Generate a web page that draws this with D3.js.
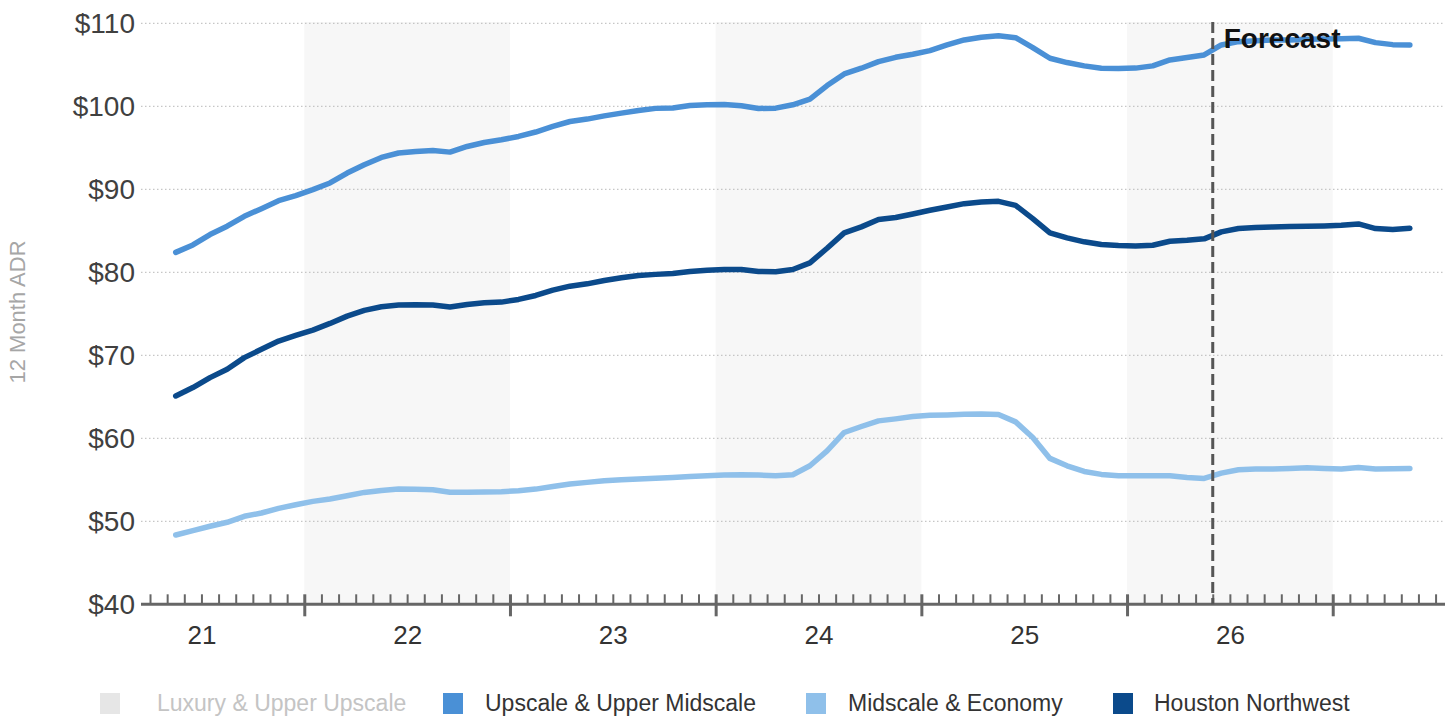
<!DOCTYPE html>
<html>
<head>
<meta charset="utf-8">
<script src="https://cdn.jsdelivr.net/npm/d3@7"></script>
<style>
  html, body { margin: 0; padding: 0; background: #fff; }
  svg { display: block; font-family: "Liberation Sans", Arial, sans-serif; }
</style>
</head>
<body>
<svg id="chart" width="1455" height="717"></svg>
<script>
// ---------------- DATA ----------------
const startMonth = "2021-05";          // first monthly point (May 2021)
const forecastStart = "2026-06";       // forecast begins June 2026
const yearLabels = ["21", "22", "23", "24", "25", "26"];
const yTicks = [40, 50, 60, 70, 80, 90, 100, 110];

const seriesNames = ["Luxury & Upper Upscale", "Upscale & Upper Midscale", "Midscale & Economy", "Houston Northwest"];

const upscale = [
  82.4, 83.3, 84.55, 85.55, 86.75, 87.67, 88.63, 89.24, 89.96, 90.76, 91.96, 92.96,
  93.84, 94.37, 94.56, 94.68, 94.48, 95.16, 95.64, 95.97, 96.37, 96.9, 97.57, 98.17,
  98.46, 98.85, 99.18, 99.5, 99.75, 99.8, 100.1, 100.18, 100.22, 100.06, 99.74, 99.78,
  100.18, 100.86, 102.5, 103.9, 104.59, 105.38, 105.9, 106.27, 106.71, 107.39, 107.99, 108.32,
  108.51, 108.27, 107.07, 105.79, 105.27, 104.87, 104.59, 104.55, 104.6, 104.87, 105.59, 105.87,
  106.19, 107.39, 107.79, 107.91, 107.99, 107.99, 108.07, 108.11, 108.15, 108.2, 107.67, 107.43,
  107.39
];

const midscale = [
  48.35, 48.88, 49.4, 49.88, 50.6, 51.0, 51.56, 52.0, 52.4, 52.68, 53.08, 53.48,
  53.72, 53.88, 53.85, 53.8, 53.49, 53.49, 53.53, 53.57, 53.68, 53.88, 54.2, 54.49,
  54.69, 54.88, 55.01, 55.09, 55.19, 55.29, 55.41, 55.49, 55.57, 55.61, 55.57, 55.49,
  55.61, 56.69, 58.49, 60.7, 61.42, 62.1, 62.34, 62.62, 62.78, 62.82, 62.9, 62.94,
  62.86, 61.98, 60.1, 57.58, 56.69, 56.01, 55.65, 55.49, 55.49, 55.49, 55.49, 55.29,
  55.17, 55.81, 56.21, 56.29, 56.29, 56.37, 56.45, 56.37, 56.29, 56.49, 56.29, 56.33,
  56.37
];

const houston = [
  65.1, 66.11, 67.31, 68.31, 69.72, 70.72, 71.72, 72.4, 73.04, 73.84, 74.72, 75.41,
  75.85, 76.05, 76.08, 76.05, 75.81, 76.13, 76.33, 76.41, 76.73, 77.21, 77.85, 78.33,
  78.61, 79.02, 79.34, 79.61, 79.75, 79.86, 80.1, 80.26, 80.34, 80.34, 80.1, 80.06,
  80.34, 81.14, 82.9, 84.75, 85.47, 86.35, 86.6, 87.03, 87.47, 87.87, 88.27, 88.47,
  88.55, 88.07, 86.47, 84.75, 84.15, 83.67, 83.34, 83.22, 83.16, 83.26, 83.74, 83.86,
  84.03, 84.87, 85.27, 85.39, 85.47, 85.51, 85.55, 85.59, 85.67, 85.83, 85.27, 85.15,
  85.31
];

// ---------------- STYLE / LAYOUT ----------------
const colors = {
  lux: "#e6e6e6",
  upscale: "#4a90d6",
  midscale: "#8fc0ea",
  houston: "#0b4a8b"
};

const svg = d3.select("#chart");
const axisY = 604.3;
const plotTop = 22;
const plotLeft = 141, plotRight = 1445;

// month index: months since Jan 2021
const parseM = d3.timeParse("%Y-%m");
const mIndex = d => (d.getFullYear() - 2021) * 12 + d.getMonth();
const start = parseM(startMonth);
const months = d3.timeMonth.range(start, d3.timeMonth.offset(start, upscale.length));
const monthPos = months.map(d => mIndex(d) + 0.5);

const x = d3.scaleLinear().domain([2.474, 78.55]).range([plotLeft, plotRight]);
const y = d3.scaleLinear().domain([40, 110]).range([axisY, 23.3]);

// shaded year bands (alternate years)
const bandYears = yearLabels.map((d, i) => i).filter(i => i % 2 === 1);
svg.append("g").selectAll("rect").data(bandYears).join("rect")
  .attr("x", i => x(i * 12))
  .attr("width", i => x(i * 12 + 12) - x(i * 12))
  .attr("y", plotTop)
  .attr("height", axisY - plotTop)
  .attr("fill", "#f7f7f7");

// gridlines
svg.append("g").selectAll("line").data(yTicks.filter(v => v > 40)).join("line")
  .attr("x1", plotLeft).attr("x2", plotRight)
  .attr("y1", d => y(d)).attr("y2", d => y(d))
  .attr("stroke", "#b8b8b8").attr("stroke-width", 1)
  .attr("stroke-dasharray", "1.5,2.5");

// y axis labels
const yAxis = svg.append("g").attr("transform", `translate(${plotLeft},0)`)
  .call(d3.axisLeft(y).tickValues(yTicks).tickFormat(d => "$" + d).tickSize(0).tickPadding(6));
yAxis.select(".domain").remove();
yAxis.selectAll("text").attr("font-size", 28).attr("fill", "#404040")
  .attr("font-family", "Liberation Sans, Arial, sans-serif");

// y title
svg.append("text")
  .attr("transform", "translate(25,312) rotate(-90)")
  .attr("text-anchor", "middle")
  .attr("font-size", 22).attr("fill", "#a6a6a6")
  .text("12 Month ADR");

// lines
const line = d3.line().x((d, i) => x(monthPos[i])).y(d => y(d));
const drawSeries = [
  { values: upscale, color: colors.upscale },
  { values: midscale, color: colors.midscale },
  { values: houston, color: colors.houston }
];
svg.append("g").selectAll("path").data(drawSeries).join("path")
  .attr("d", d => line(d.values))
  .attr("fill", "none")
  .attr("stroke", d => d.color)
  .attr("stroke-width", 5.5)
  .attr("stroke-linejoin", "round")
  .attr("stroke-linecap", "round");

// x axis: minor month ticks
const minorTicks = d3.range(Math.ceil(x.domain()[0]), Math.floor(x.domain()[1]) + 1).filter(m => m % 12 !== 0);
const majorTicks = d3.range(0, 80, 12).filter(m => m >= x.domain()[0] && m <= x.domain()[1]);

const xMinor = svg.append("g").attr("transform", `translate(0,${axisY})`)
  .call(d3.axisBottom(x).tickValues(minorTicks).tickSize(-10).tickSizeOuter(0).tickFormat(""));
xMinor.select(".domain").remove();
xMinor.selectAll(".tick line").attr("stroke", "#666").attr("stroke-width", 2);

const xMajor = svg.append("g").attr("transform", `translate(0,${axisY})`)
  .call(d3.axisBottom(x).tickValues(majorTicks).tickSize(12).tickSizeOuter(0).tickFormat(""));
xMajor.select(".domain").attr("stroke", "#666").attr("stroke-width", 3)
  .attr("d", `M${plotLeft},0H${plotRight}`);
xMajor.selectAll(".tick line").attr("y1", -10).attr("stroke", "#666").attr("stroke-width", 3);

// year labels
const xLabels = svg.append("g").attr("transform", `translate(0,${axisY})`)
  .call(d3.axisBottom(x).tickValues(yearLabels.map((d, i) => i * 12 + 6))
    .tickFormat((d, i) => yearLabels[i]).tickSize(0).tickPadding(21));
xLabels.select(".domain").remove();
xLabels.selectAll("text").attr("font-size", 26).attr("fill", "#333")
  .attr("font-family", "Liberation Sans, Arial, sans-serif");

// forecast line
const fPos = mIndex(parseM(forecastStart));
svg.append("line")
  .attr("x1", x(fPos)).attr("x2", x(fPos))
  .attr("y1", plotTop).attr("y2", axisY)
  .attr("stroke", "#555").attr("stroke-width", 3)
  .attr("stroke-dasharray", "11,5");
svg.append("text")
  .attr("x", x(fPos) + 11).attr("y", 48)
  .attr("font-size", 28).attr("font-weight", "bold").attr("fill", "#111")
  .text("Forecast");

// legend
const legendItems = [
  { name: seriesNames[0], color: colors.lux, text: "#c4c4c4", sx: 100, tx: 157 },
  { name: seriesNames[1], color: colors.upscale, text: "#333", sx: 443, tx: 485 },
  { name: seriesNames[2], color: colors.midscale, text: "#333", sx: 806, tx: 848 },
  { name: seriesNames[3], color: colors.houston, text: "#333", sx: 1113, tx: 1154 }
];
const lg = svg.append("g").selectAll("g").data(legendItems).join("g");
lg.append("rect").attr("x", d => d.sx).attr("y", 693).attr("width", 20).attr("height", 21)
  .attr("fill", d => d.color);
lg.append("text").attr("x", d => d.tx).attr("y", 711)
  .attr("font-size", 23).attr("fill", d => d.text).text(d => d.name);
</script>
</body>
</html>
